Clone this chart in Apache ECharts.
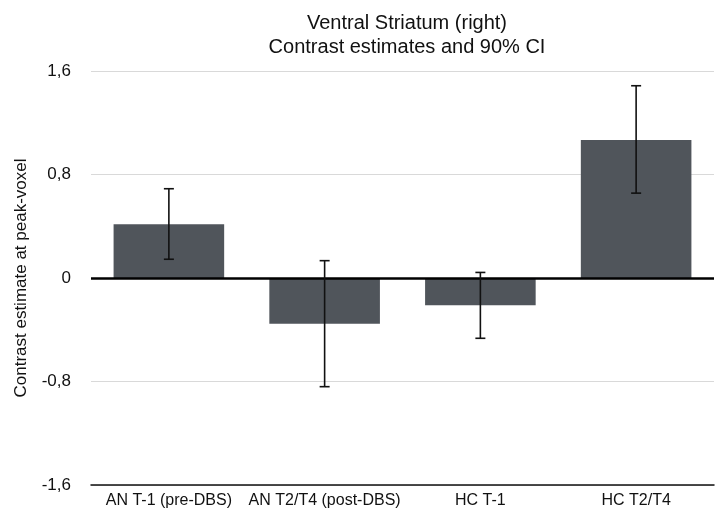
<!DOCTYPE html>
<html>
<head>
<meta charset="utf-8">
<script src="https://cdn.jsdelivr.net/npm/echarts@6/dist/echarts.min.js"></script>
<style>
html,body{margin:0;padding:0;background:#fff;}
#chart{width:715px;height:517px;}
</style>
</head>
<body>
<div id="chart"></div>
<script>
const categories = ['AN T-1 (pre-DBS)', 'AN T2/T4 (post-DBS)', 'HC T-1', 'HC T2/T4'];
const estimates = [0.415, -0.353, -0.211, 1.067];
const ciLow = [0.145, -0.84, -0.466, 0.656];
const ciHigh = [0.69, 0.134, 0.043, 1.486];
const yTicks = [-1.6, -0.8, 0, 0.8, 1.6];

const FONT = '"Liberation Sans", Arial, Helvetica, sans-serif';
const chart = echarts.init(document.getElementById('chart'));

const errData = categories.map((c, i) => [i, ciLow[i], ciHigh[i]]);

chart.setOption({
  animation: false,
  backgroundColor: '#fff',
  title: {
    text: 'Ventral Striatum (right)\nContrast estimates and 90% CI',
    left: 402,
    textAlign: 'center',
    top: 6,
    textStyle: {
      fontFamily: FONT, fontSize: 20, fontWeight: 'normal', color: '#111', lineHeight: 24
    }
  },
  grid: { left: 91, right: 1, top: 71, bottom: 32, containLabel: false },
  xAxis: {
    type: 'category',
    data: categories,
    axisLine: { onZero: false, lineStyle: { color: '#111', width: 1.5 } },
    axisTick: { show: false },
    axisLabel: { fontFamily: FONT, fontSize: 16, color: '#111', margin: 8, interval: 0 }
  },
  yAxis: {
    type: 'value',
    min: yTicks[0],
    max: yTicks[yTicks.length - 1],
    interval: 0.8,
    name: 'Contrast estimate at peak-voxel',
    nameLocation: 'middle',
    nameGap: 61,
    nameTextStyle: { fontFamily: FONT, fontSize: 17, color: '#111' },
    axisLine: { show: false },
    axisTick: { show: false },
    axisLabel: {
      fontFamily: FONT, fontSize: 17, color: '#111', margin: 20,
      formatter: v => {
        const t = yTicks.find(x => Math.abs(x - v) < 1e-6);
        if (t === undefined) return '';
        return t === 0 ? '0' : String(t).replace('.', ',');
      }
    },
    splitLine: { lineStyle: { color: '#d9d9d9', width: 1.2 } }
  },
  series: [
    {
      type: 'bar',
      data: estimates,
      barWidth: '71%',
      itemStyle: { color: '#50555b' },
      silent: true,
      markLine: {
        silent: true,
        symbol: 'none',
        label: { show: false },
        lineStyle: { color: '#000', width: 2.5, type: 'solid' },
        data: [{ yAxis: 0 }]
      },
      z: 2
    },
    {
      type: 'custom',
      data: errData,
      silent: true,
      z: 5,
      renderItem: function (params, api) {
        const x = api.value(0);
        const lo = api.coord([x, api.value(1)]);
        const hi = api.coord([x, api.value(2)]);
        const cap = 5;
        const style = { stroke: '#111', lineWidth: 1.6 };
        return {
          type: 'group',
          children: [
            { type: 'line', shape: { x1: hi[0], y1: hi[1], x2: lo[0], y2: lo[1] }, style },
            { type: 'line', shape: { x1: hi[0] - cap, y1: hi[1], x2: hi[0] + cap, y2: hi[1] }, style },
            { type: 'line', shape: { x1: lo[0] - cap, y1: lo[1], x2: lo[0] + cap, y2: lo[1] }, style }
          ]
        };
      }
    }
  ]
});
</script>
</body>
</html>
